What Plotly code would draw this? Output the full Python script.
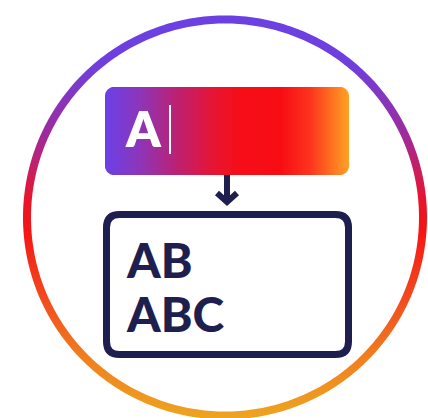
import numpy as np
import plotly.graph_objects as go

W, H = 428, 418

# content
input_text = "A"
output_lines = ["AB", "ABC"]

ring_colors = [[0.0, "#6B40E2"], [0.12, "#6F3FDD"], [0.3, "#A02A9A"], [0.45, "#E8152F"],
               [0.53, "#F51515"], [0.7, "#F24A1E"], [0.85, "#F0801F"], [1.0, "#EEA520"]]
bar_colors = [[0.0, "#6A40E6"], [0.14, "#8C36BA"], [0.3, "#BE2070"], [0.45, "#E81432"],
              [0.55, "#F50E18"], [0.72, "#F80C14"], [0.84, "#FC341C"], [1.0, "#FFA224"]]
navy = "#1E1F4E"


def rrect(x0, y0, x1, y1, r, n=12):
    xs, ys = [], []
    corners = [(x1 - r, y0 + r, -np.pi / 2, 0), (x1 - r, y1 - r, 0, np.pi / 2),
               (x0 + r, y1 - r, np.pi / 2, np.pi), (x0 + r, y0 + r, np.pi, 1.5 * np.pi)]
    for cx, cy, a0, a1 in corners:
        t = np.linspace(a0, a1, n)
        xs += list(cx + r * np.cos(t))
        ys += list(cy + r * np.sin(t))
    xs.append(xs[0]); ys.append(ys[0])
    return xs, ys


def rrect_path(x0, y0, x1, y1, r):
    return (f"M{x0+r},{y0} L{x1-r},{y0} Q{x1},{y0} {x1},{y0+r} L{x1},{y1-r} "
            f"Q{x1},{y1} {x1-r},{y1} L{x0+r},{y1} Q{x0},{y1} {x0},{y1-r} "
            f"L{x0},{y0+r} Q{x0},{y0} {x0+r},{y0} Z")


fig = go.Figure()

# gradient ring
cx, cy, ro, ri = 225, 217.5, 202, 194
t = np.linspace(0, 2 * np.pi, 361)
rx = list(cx + ro * np.cos(t)) + list(cx + ri * np.cos(t[::-1]))
ry = list(cy + ro * np.sin(t)) + list(cy + ri * np.sin(t[::-1]))
fig.add_trace(go.Scatter(x=rx, y=ry, mode="none", fill="toself",
                         fillgradient=dict(type="vertical", colorscale=ring_colors,
                                           start=cy - ro, stop=cy + ro),
                         hoverinfo="skip", showlegend=False))

# gradient input bar
bx, by = rrect(105, 87, 349, 175, 9)
fig.add_trace(go.Scatter(x=bx, y=by, mode="none", fill="toself",
                         fillgradient=dict(type="horizontal", colorscale=bar_colors,
                                           start=105, stop=349),
                         hoverinfo="skip", showlegend=False))

shapes = []
# cursor
shapes.append(dict(type="line", x0=170, x1=170, y0=105, y1=154,
                   line=dict(color="white", width=2)))
# arrow
shapes.append(dict(type="line", x0=227, x1=227, y0=175, y1=201,
                   line=dict(color=navy, width=6)))
shapes.append(dict(type="path", path="M217,193 L227,202 L237,193",
                   line=dict(color=navy, width=6)))
# output box
shapes.append(dict(type="path", path=rrect_path(106.5, 214.5, 348.5, 354.5, 13),
                   line=dict(color=navy, width=7)))

ann = [
    dict(x=123, y=128, text=input_text, showarrow=False, xanchor="left",
         yanchor="middle", font=dict(family="Lato", size=49, color="white", weight=800)),
    dict(x=124, y=259.5, text=output_lines[0], showarrow=False, xanchor="left",
         yanchor="middle", font=dict(family="Lato", size=48, color=navy, weight=900)),
    dict(x=124, y=313.5, text=output_lines[1], showarrow=False, xanchor="left",
         yanchor="middle", font=dict(family="Lato", size=48, color=navy, weight=900)),
]

fig.update_layout(width=W, height=H, margin=dict(l=0, r=0, t=0, b=0),
                  paper_bgcolor="white", plot_bgcolor="white",
                  xaxis=dict(range=[0, W], visible=False, fixedrange=True),
                  yaxis=dict(range=[H, 0], visible=False, fixedrange=True),
                  shapes=shapes, annotations=ann, showlegend=False)
fig.write_html("out.html", config={"displayModeBar": False},
               post_script="document.body.style.margin='0';document.body.style.overflow='hidden';")
